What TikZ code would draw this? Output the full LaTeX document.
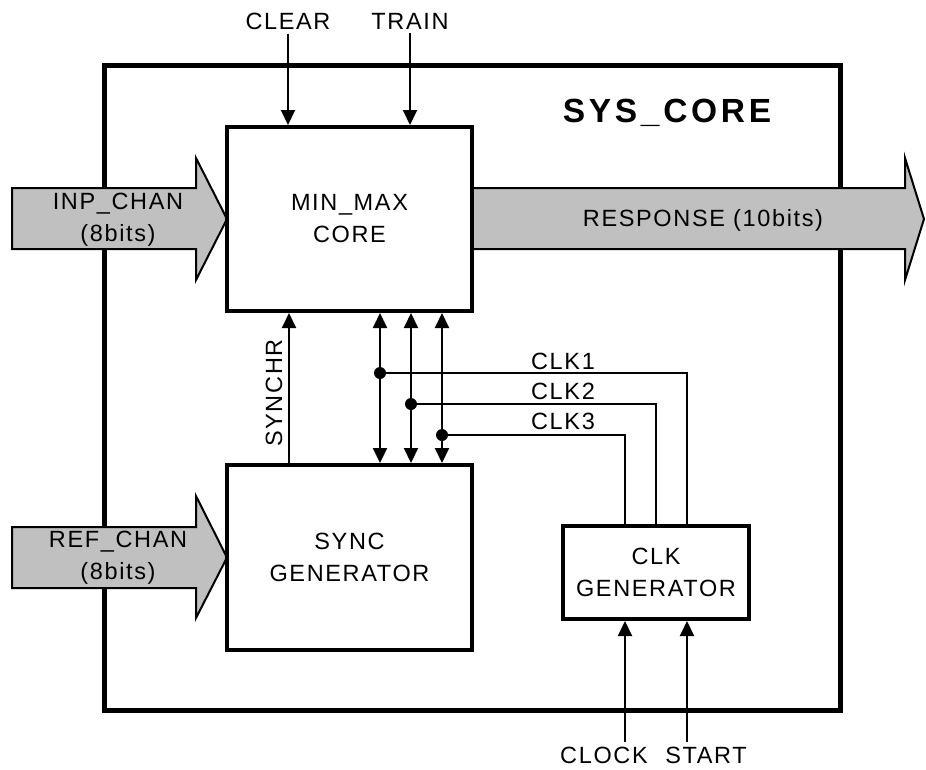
\documentclass[tikz,border=0pt]{standalone}
\usepackage{fontspec}
\setmainfont{Liberation Sans}[LetterSpace=7]
\newfontfamily\titlefont{Liberation Sans}[LetterSpace=11]
\usetikzlibrary{arrows.meta,calc}
\definecolor{busgray}{HTML}{C0C0C0}
\begin{document}
\begin{tikzpicture}[x=1pt,y=-1pt,
  txt/.style={font=\fontsize{23.5}{32}\selectfont, inner sep=1pt, align=center},
  blk/.style={draw, line width=4pt, fill=white, txt},
  wire/.style={line width=2pt},
  sig/.style={wire, -{Triangle[length=15pt,width=14pt]}},
  bisig/.style={wire, {Triangle[length=15pt,width=14pt]}-{Triangle[length=15pt,width=14pt]}},
  bus/.style={draw, line width=2pt, fill=busgray, line join=miter},
  dot/.style={circle, fill=black, inner sep=0pt, minimum size=12pt}]
\useasboundingbox (0,0) rectangle (926,769);

% outer box
\draw[line width=5pt] (104,65) rectangle (840,710);
\node[font=\titlefont\fontsize{33.5}{36}\selectfont\bfseries, inner sep=0pt] (title) at (667,113) {SYS\_CORE};

% buses
\draw[bus] (12,188) -- (196,188) -- (196,158) -- (227,219) -- (196,280) -- (196,249) -- (12,249) -- cycle;
\draw[bus] (12,527) -- (196,527) -- (196,496) -- (227,557.5) -- (196,618) -- (196,588) -- (12,588) -- cycle;
\draw[bus] (472,188) -- (905,188) -- (905,158) -- (924,219) -- (905,280) -- (905,249) -- (472,249) -- cycle;
\node[txt] (inp) at (118,220) {INP\_CHAN\\(8bits)};
\node[txt] (ref) at (118,558) {REF\_CHAN\\(8bits)};
\node[txt] (resp) at (703,220) {RESPONSE (10bits)};

% blocks
\node[blk, minimum width=245pt, minimum height=184pt] (mm) at (349.5,219) {MIN\_MAX\\CORE};
\node[blk, minimum width=245pt, minimum height=185pt] (sync) at (349.5,557.5) {SYNC\\GENERATOR};
\node[blk, minimum width=186pt, minimum height=93pt] (clk) at (656,572.5) {CLK\\GENERATOR};

% top inputs
\node[txt] (clear) at (288,21) {CLEAR};
\node[txt] (train) at (410,21) {TRAIN};
\draw[sig] ($(clear.south)+(0,3)$) -- (clear.south |- mm.north);
\draw[sig] ($(train.south)+(0,3)$) -- (train.south |- mm.north);

% SYNCHR
\coordinate (sx) at (289,0);
\draw[sig] (sx |- sync.north) -- (sx |- mm.south);
\node[txt, rotate=90] (synchr) at (274,393) {SYNCHR};

% bidirectional buses
\coordinate (b1) at (380,0);
\coordinate (b2) at (411,0);
\coordinate (b3) at (442,0);
\draw[bisig] (b1 |- mm.south) -- (b1 |- sync.north);
\draw[bisig] (b2 |- mm.south) -- (b2 |- sync.north);
\draw[bisig] (b3 |- mm.south) -- (b3 |- sync.north);

% clock lines
\node[dot] (d1) at (380,373) {};
\node[dot] (d2) at (411,404) {};
\node[dot] (d3) at (442,435) {};
\coordinate (k1) at (687,0);
\coordinate (k2) at (656,0);
\coordinate (k3) at (625,0);
\draw[wire] (d1.center) -| (k1 |- clk.north);
\draw[wire] (d2.center) -| (k2 |- clk.north);
\draw[wire] (d3.center) -| (k3 |- clk.north);
\node[txt] (l1) at (563,361) {CLK1};
\node[txt] (l2) at (563,391) {CLK2};
\node[txt] (l3) at (563,421) {CLK3};

% bottom inputs
\node[txt] (clock) at (604,755) {CLOCK};
\node[txt] (start) at (706,755) {START};
\coordinate (c1) at (625,742);
\coordinate (c2) at (687,742);
\draw[sig] (c1) -- (c1 |- clk.south);
\draw[sig] (c2) -- (c2 |- clk.south);
\end{tikzpicture}
\end{document}
